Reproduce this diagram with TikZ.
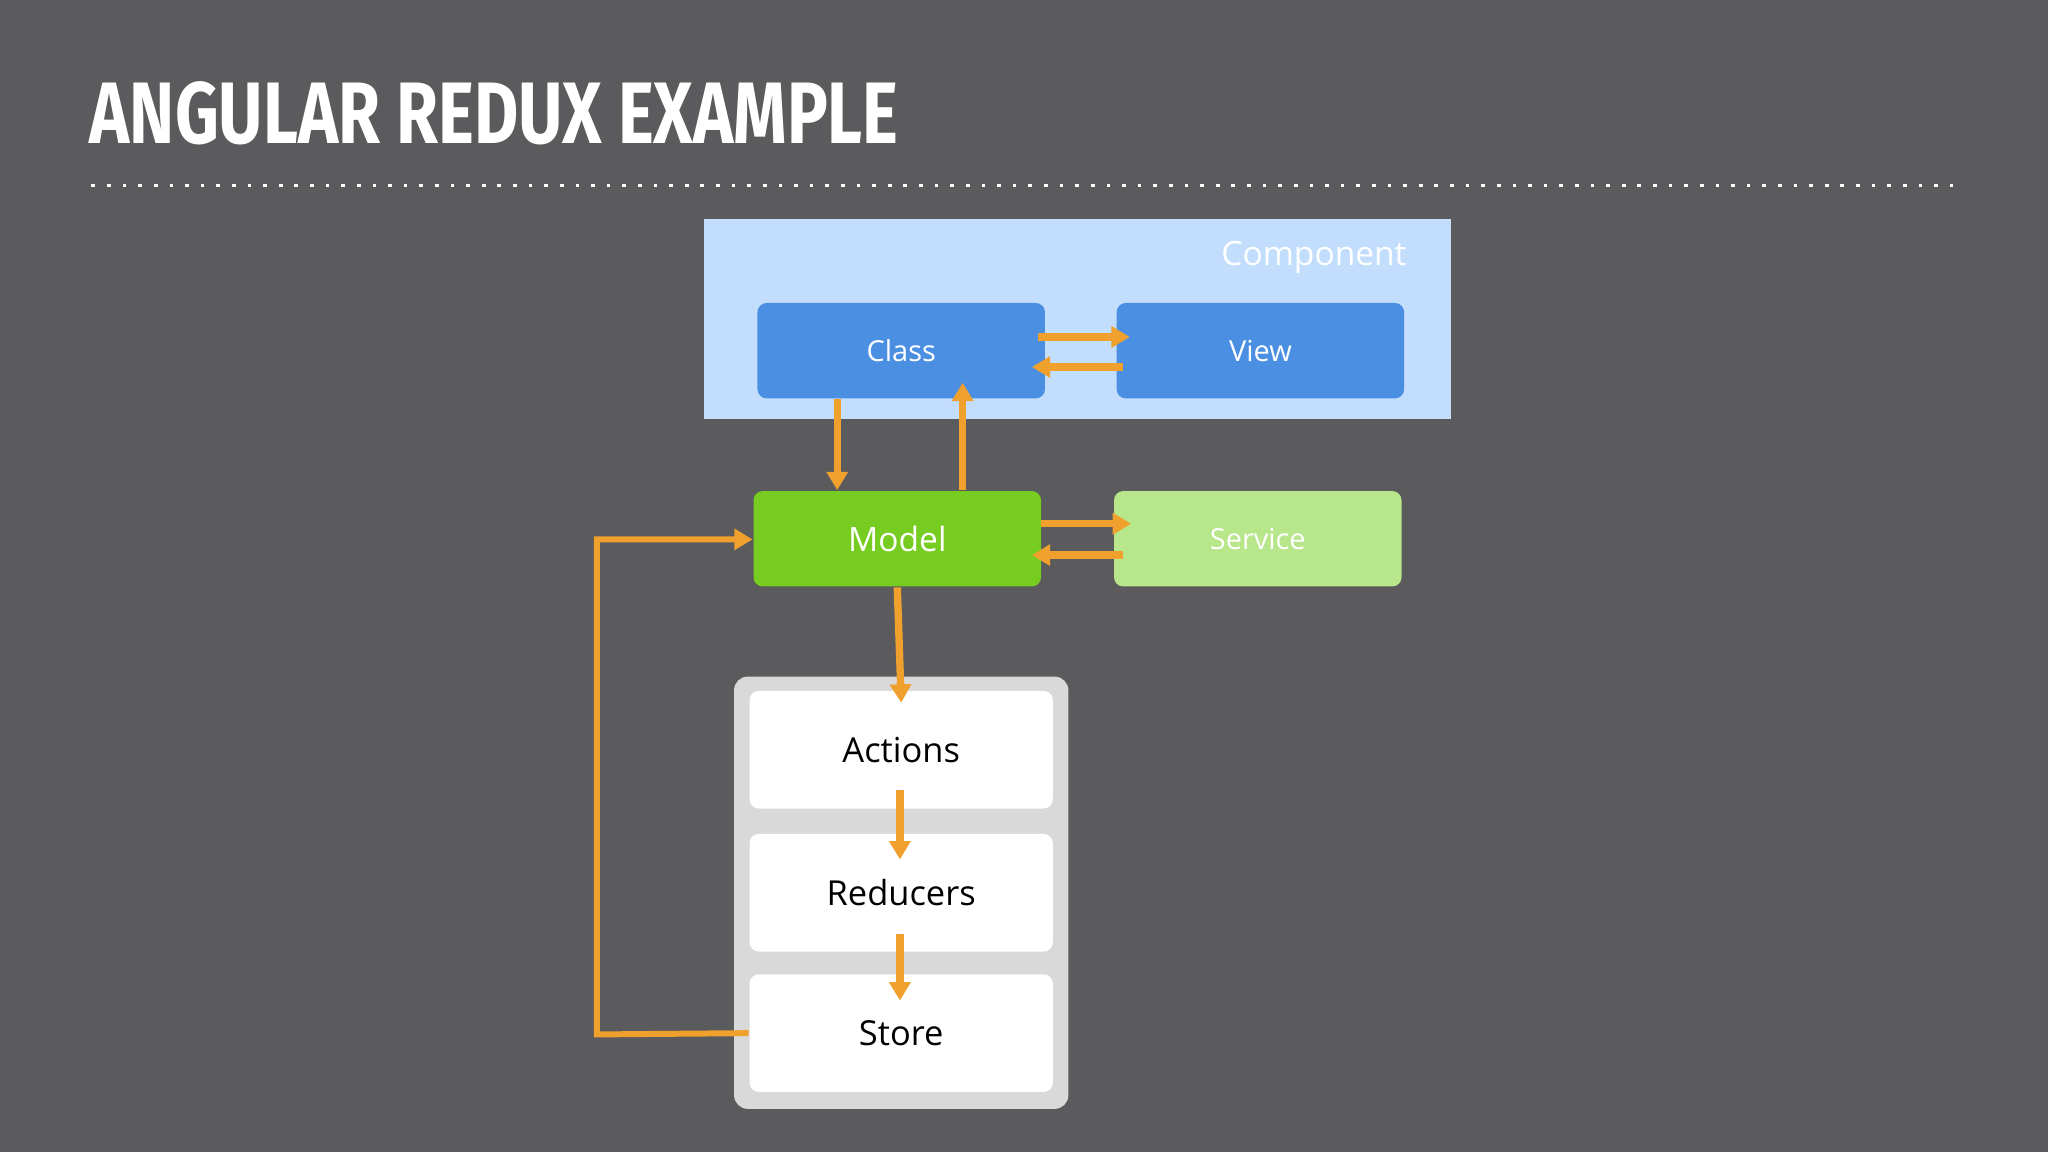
\documentclass[tikz,border=0pt]{standalone}
\usepackage{fontspec}
\setmainfont{Open Sans}
\newfontfamily\titlefont{Fira Sans}
\usetikzlibrary{arrows.meta,positioning}
\definecolor{slate}{HTML}{5B5A5C}
\definecolor{compblue}{HTML}{C2DEFC}
\definecolor{boxblue}{HTML}{4A8FE2}
\definecolor{modelgreen}{HTML}{77CC22}
\definecolor{servgreen}{HTML}{B8E68A}
\definecolor{reduxgray}{HTML}{D9D9D9}
\definecolor{flow}{HTML}{F0A02C}
\tikzset{
  box/.style={rounded corners=2pt, minimum width=2.2cm, minimum height=0.73cm, inner sep=0pt, text=white, font=\fontsize{6.3}{7}\selectfont},
  reduxbox/.style={box, fill=white, minimum width=2.32cm, minimum height=0.9cm, text=black, font=\fontsize{7.5}{9}\selectfont},
  flowline/.style={draw=flow, line width=1.6pt, -{Triangle[length=4pt,width=4.5pt]}}
}
\begin{document}
\begin{tikzpicture}[x=0.01cm,y=-0.01cm]

% Background
\fill[slate] (0,0) rectangle (1568,882);
\useasboundingbox (0,0) rectangle (1568,882);

% Title
\node[anchor=base west, inner sep=0pt, text=white] (title) at (68,110)
  {\scalebox{0.78}[1]{\titlefont\bfseries\fontsize{19}{22}\selectfont ANGULAR REDUX EXAMPLE}};
\draw[white, line width=0.8pt, dash pattern=on 0.8pt off 2.6pt] (70,142) -- (1500,142);

% Component
\fill[compblue] (539,168) rectangle (1111,321);
\node[text=white, font=\fontsize{7.3}{9}\selectfont] (comp) at (1006,197) {Component};
\node[box, fill=boxblue] (class) at (690,268.5) {Class};
\node[box, fill=boxblue] (view) at (965,268.5) {View};

% Model and service
\node[box, fill=modelgreen, font=\fontsize{7.3}{9}\selectfont] (model) at (687,412.5) {Model};
\node[box, fill=servgreen] (service) at (963,412.5) {Service};

% Redux
\fill[reduxgray, rounded corners=3pt] (562,518) rectangle (818,849);
\node[reduxbox] (actions) at (690,574) {Actions};
\node[reduxbox] (reducers) at (690,683.5) {Reducers};
\node[reduxbox] (store) at (690,791) {Store};

% Flows
\coordinate (c1) at (795,258); \coordinate (v1) at (865,258);
\coordinate (v2) at (860,281); \coordinate (c2) at (790,281);
\draw[flowline] (c1) -- (v1);
\draw[flowline] (v2) -- (c2);
\draw[flowline] (class.south -| 641,0) -- (model.north -| 641,0);
\draw[flowline] (model.north -| 737,0) -- (737,293);
\coordinate (m1) at (797,401); \coordinate (s1) at (866,401);
\coordinate (s2) at (860,425); \coordinate (m2) at (790,425);
\draw[flowline] (m1) -- (s1);
\draw[flowline] (s2) -- (m2);
\draw[flowline] (model.south) -- (690,538);
\draw[flowline] (689,605) -- (689,658);
\draw[flowline] (689,715) -- (689,766);
\coordinate (loopa) at (457,792);
\coordinate (loopb) at (457,413);
\draw[flowline, line width=1.3pt] (store.west) -- (loopa) -- (loopb) -- (model.west |- loopb);

\end{tikzpicture}
\end{document}
